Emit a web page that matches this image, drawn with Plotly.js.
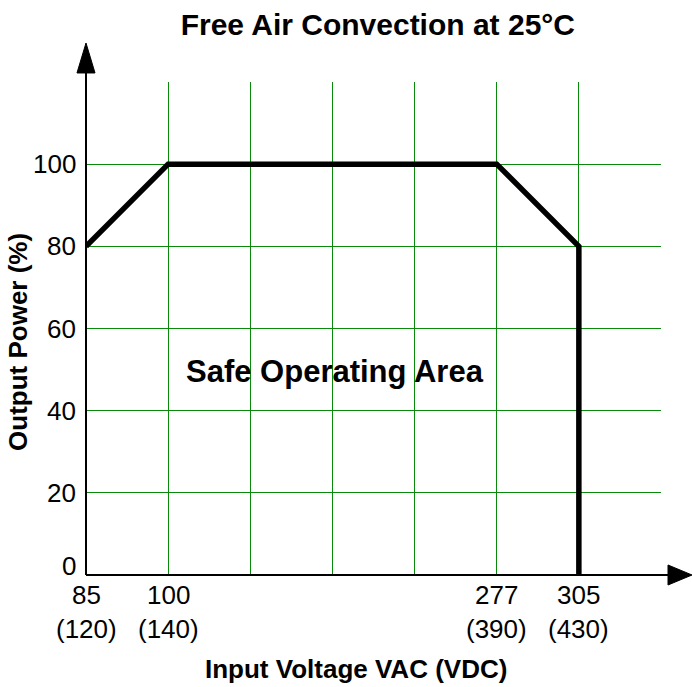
<!DOCTYPE html>
<html>
<head>
<meta charset="utf-8">
<script src="https://cdn.plot.ly/plotly-3.0.1.min.js"></script>
<style>html,body{margin:0;padding:0;background:#fff;}#chart{width:692px;height:687px;}</style>
</head>
<body>
<div id="chart"></div>
<script>
// Grid positions of the (non-linear) input-voltage axis
const tickPos = [0, 1, 5, 6];
const vacLabels = ['85', '100', '277', '305'];
const vdcLabels = ['(120)', '(140)', '(390)', '(430)'];
// Derating curve (x = grid position, y = output power %)
const curveX = [0, 1, 5, 6, 6];
const curveY = [80, 100, 100, 80, 0];
const yTicks = [0, 20, 40, 60, 80, 100];
const yTickText = ['0', '20', '40', '60', '80', '100'];
const yGrid = [0, 20, 40, 60, 80, 100, 120];
const xGrid = [0, 1, 2, 3, 4, 5, 6, 7];

const FONT = 'Liberation Sans, Arial, sans-serif';
const GREEN = '#0a8a0a';

const annotations = [];
tickPos.forEach((p, i) => {
  annotations.push({x: p, y: 0, xref: 'x', yref: 'y', text: vacLabels[i], showarrow: false,
    yanchor: 'middle', xanchor: 'center', yshift: -20, font: {family: FONT, size: 26, color: '#000'}});
  annotations.push({x: p, y: 0, xref: 'x', yref: 'y', text: vdcLabels[i], showarrow: false,
    yanchor: 'middle', xanchor: 'center', yshift: -54, font: {family: FONT, size: 26, color: '#000'}});
});
yTicks.forEach((v, i) => {
  annotations.push({x: 0, y: v, xref: 'paper', yref: 'y', text: yTickText[i], showarrow: false,
    xanchor: 'right', yanchor: 'middle', xshift: -8, yshift: v === 0 ? 9 : 0,
    font: {family: FONT, size: 26, color: '#000'}});
});
annotations.push({x: 3.03, y: 49.5, xref: 'x', yref: 'y', text: '<b>Safe Operating Area</b>', showarrow: false,
  font: {family: FONT, size: 31, color: '#000'}});
annotations.push({x: -0.118, y: 0.473, xref: 'paper', yref: 'paper', text: '<b>Output Power (%)</b>', showarrow: false,
  textangle: -90, xanchor: 'center', yanchor: 'middle', font: {family: FONT, size: 26, color: '#000'}});
annotations.push({x: 0.47, y: 0, xref: 'paper', yref: 'paper', yshift: -94, text: '<b>Input Voltage VAC (VDC)</b>', showarrow: false,
  xanchor: 'center', yanchor: 'middle', font: {family: FONT, size: 26, color: '#000'}});

const shapes = [
  // y axis line + arrow
  {type: 'line', xref: 'paper', yref: 'paper', x0: 0, x1: 0, y0: 0, y1: 1.02, line: {color: '#000', width: 2}, layer: 'above'},
  {type: 'path', xref: 'paper', yref: 'paper', path: 'M -0.0157 1.0183 L 0 1.0791 L 0.0157 1.0183 Z', fillcolor: '#000', line: {color: '#000', width: 1}, layer: 'above'},
  // x axis line + arrow
  {type: 'line', xref: 'paper', yref: 'paper', x0: 0, x1: 1.014, y0: 0, y1: 0, line: {color: '#000', width: 2}, layer: 'above'},
  {type: 'path', xref: 'paper', yref: 'paper', path: 'M 1.0122 -0.0203 L 1.0539 0 L 1.0122 0.0203 Z', fillcolor: '#000', line: {color: '#000', width: 1}, layer: 'above'}
];

const trace = {x: curveX, y: curveY, type: 'scatter', mode: 'lines', cliponaxis: false,
  line: {color: '#000', width: 5.5}, hoverinfo: 'skip'};

const layout = {
  width: 692, height: 687,
  margin: {l: 86, r: 31, t: 82, b: 112},
  paper_bgcolor: '#fff', plot_bgcolor: '#fff',
  showlegend: false,
  title: {text: '<b>Free Air Convection at 25°C</b>', x: 0.546, xref: 'container', xanchor: 'center',
    y: 0.965, yref: 'container', yanchor: 'middle', font: {family: FONT, size: 30, color: '#000'}},
  xaxis: {range: [0, 7], tickmode: 'array', tickvals: xGrid, ticktext: xGrid.map(() => ''),
    showgrid: true, gridcolor: GREEN, gridwidth: 1, zeroline: false, showline: false, ticks: '', fixedrange: true},
  yaxis: {range: [0, 120], tickmode: 'array', tickvals: yGrid, ticktext: yGrid.map(() => ''),
    showgrid: true, gridcolor: GREEN, gridwidth: 1, zeroline: false, showline: false, ticks: '', fixedrange: true},
  annotations: annotations,
  shapes: shapes
};

Plotly.newPlot('chart', [trace], layout, {displayModeBar: false, staticPlot: true});
</script>
</body>
</html>
